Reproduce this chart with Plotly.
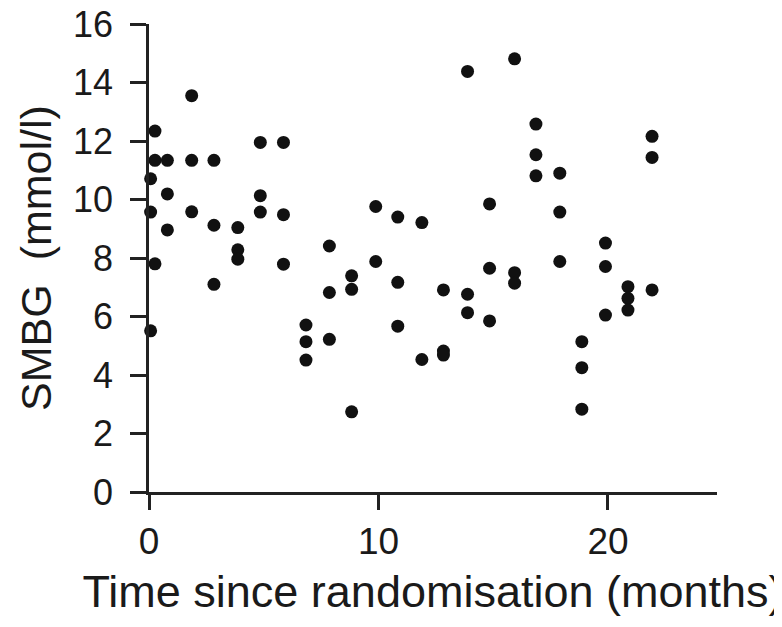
import plotly.graph_objects as go

# Time since randomisation (months) and SMBG (mmol/l) for each point
months = [
    0.07, 0.07, 0.07,
    0.26, 0.26, 0.26,
    0.80, 0.80, 0.80,
    1.86, 1.86, 1.86,
    2.83, 2.83, 2.83,
    3.87, 3.87, 3.87,
    4.85, 4.85, 4.85,
    5.86, 5.86, 5.86,
    6.84, 6.84, 6.84,
    7.86, 7.86, 7.86,
    8.83, 8.83, 8.83,
    9.88, 9.88,
    10.84, 10.84, 10.84,
    11.89, 11.89,
    12.83, 12.83, 12.83,
    13.88, 13.88, 13.88,
    14.84, 14.84, 14.84,
    15.93, 15.93, 15.93,
    16.86, 16.86, 16.86,
    17.90, 17.90, 17.90,
    18.86, 18.86, 18.86,
    19.89, 19.89, 19.89,
    20.87, 20.87, 20.87,
    21.92, 21.92, 21.92,
]
smbg = [
    10.71, 9.57, 5.51,
    12.34, 11.34, 7.80,
    11.34, 10.19, 8.96,
    13.55, 11.34, 9.58,
    11.34, 9.12, 7.10,
    9.04, 8.28, 7.96,
    11.95, 10.13, 9.57,
    11.95, 9.48, 7.79,
    5.71, 5.14, 4.51,
    8.41, 6.82, 5.22,
    7.39, 6.93, 2.74,
    9.76, 7.88,
    9.40, 7.17, 5.67,
    9.21, 4.53,
    6.91, 4.82, 4.68,
    14.38, 6.76, 6.13,
    9.85, 7.65, 5.85,
    14.81, 7.50, 7.14,
    12.58, 11.53, 10.81,
    10.90, 9.57, 7.88,
    5.14, 4.25, 2.83,
    8.51, 7.71, 6.05,
    7.02, 6.62, 6.22,
    12.16, 11.44, 6.91,
]

x_ticks = [0, 10, 20]
y_ticks = [0, 2, 4, 6, 8, 10, 12, 14, 16]

FONT = "Liberation Sans, Arial, sans-serif"
INK = "#1a1a1a"
AXIS = "#222222"

fig = go.Figure()
fig.add_trace(go.Scatter(
    x=months,
    y=smbg,
    mode="markers",
    marker=dict(size=13, color="#111111"),
    cliponaxis=False,
))

# the page body adds an 8px offset, so the figure is 8px smaller
fig.update_layout(
    width=774,
    height=619,
    margin=dict(l=141, r=65, t=16, b=135),
    paper_bgcolor="white",
    plot_bgcolor="white",
    showlegend=False,
    font=dict(family=FONT, color=INK),
)

fig.update_xaxes(
    range=[0, 24.75],
    tickvals=x_ticks,
    ticktext=[str(v) for v in x_ticks],
    ticks="outside",
    ticklen=15,
    tickwidth=3,
    tickcolor=AXIS,
    showline=True,
    linecolor=AXIS,
    linewidth=2.5,
    showgrid=False,
    zeroline=False,
    automargin="bottom",
    tickfont=dict(size=37, family=FONT, color=INK),
    title=dict(text="Time since randomisation (months)",
               font=dict(size=45, family=FONT, color=INK), standoff=15),
)

fig.update_yaxes(
    range=[0, 16],
    tickvals=y_ticks,
    ticktext=[str(v) + "\u00a0" for v in y_ticks],
    ticks="outside",
    ticklen=16,
    tickwidth=3,
    tickcolor=AXIS,
    showline=True,
    linecolor=AXIS,
    linewidth=2.5,
    showgrid=False,
    zeroline=False,
    automargin="left",
    ticklabeloverflow="allow",
    tickfont=dict(size=36, family=FONT, color=INK),
    title=dict(text="SMBG  (mmol/l)",
               font=dict(size=43, family=FONT, color=INK), standoff=8),
)

fig.write_html("out.html")
